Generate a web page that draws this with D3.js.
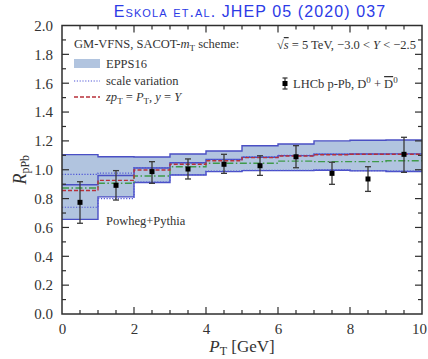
<!DOCTYPE html>
<html>
<head>
<meta charset="utf-8">
<script src="https://cdn.jsdelivr.net/npm/d3@7"></script>
<style>
  body { margin: 0; background: #fff; }
  svg { display: block; }
  text { font-family: "Liberation Serif", "DejaVu Serif", serif; fill: #333; }
</style>
</head>
<body>
<div id="chart"></div>
<script>
// bins in pT (GeV)
const binEdges = [0, 1, 2, 3, 4, 5, 6, 7, 8, 9, 10];
// EPPS16 / Powheg band (step values per bin)
const bandUpper = [1.105, 1.09, 1.088, 1.109, 1.13, 1.166, 1.178, 1.2, 1.204, 1.206];
const bandInner = [0.896, 0.96, 1.012, 1.049, 1.072, 1.087, 1.098, 1.107, 1.109, 1.11];
const bandLower = [0.656, 0.812, 0.912, 0.964, 0.987, 0.994, 0.994, 0.997, 0.992, 0.988];
// scale variation
const scaleUp = [0.968, 0.977, 1.015, 1.047, 1.07, 1.09, 1.1, 1.109, 1.111, 1.111];
const scaleDown = [0.74, 0.80, 0.915, 0.966, 0.99, 0.996, 0.996, 0.999, 0.994, 0.99];
// zpT = PT, y = Y
const central = [0.856, 0.926, 0.998, 1.038, 1.062, 1.084, 1.095, 1.104, 1.107, 1.107];
// Powheg+Pythia
const powheg = [0.874, 0.906, 0.957, 1.021, 1.045, 1.045, 1.06, 1.056, 1.056, 1.062];
// LHCb p-Pb data
const lhcbPt = [0.5, 1.5, 2.5, 3.5, 4.5, 5.5, 6.5, 7.5, 8.5, 9.5];
const lhcbR = [0.774, 0.892, 0.987, 1.005, 1.038, 1.028, 1.09, 0.975, 0.936, 1.107];
const lhcbHi = [0.917, 0.994, 1.056, 1.075, 1.107, 1.097, 1.167, 1.052, 1.021, 1.225];
const lhcbLo = [0.629, 0.79, 0.906, 0.936, 0.975, 0.961, 1.014, 0.899, 0.85, 0.982];
const xTicks = [0, 2, 4, 6, 8, 10];
const yTicks = [0.0, 0.2, 0.4, 0.6, 0.8, 1.0, 1.2, 1.4, 1.6, 1.8, 2.0];

const W = 428, H = 359;
const m = {top: 25.5, right: 6, bottom: 45, left: 62};
const w = W - m.left - m.right, h = H - m.top - m.bottom;
const SERIF = "Liberation Serif, DejaVu Serif, serif";

const svg = d3.select("#chart").append("svg")
  .attr("width", W).attr("height", H);

const x = d3.scaleLinear().domain([0, 10]).range([0, w]);
const y = d3.scaleLinear().domain([0, 2]).range([h, 0]);

const g = svg.append("g").attr("transform", `translate(${m.left},${m.top})`);

// step helper: per-bin values -> points incl. last edge
const steps = vals => vals.map((v, i) => [binEdges[i], v]).concat([[binEdges[vals.length], vals[vals.length - 1]]]);

const line = d3.line().x(d => x(d[0])).y(d => y(d[1])).curve(d3.curveStepAfter);
const area = d3.area()
  .x(d => x(d.x)).y0(d => y(d.lo)).y1(d => y(d.hi)).curve(d3.curveStepAfter);

const bandData = bandUpper.map((v, i) => ({x: binEdges[i], hi: v, lo: bandLower[i]}));
bandData.push({x: 10, hi: bandUpper[9], lo: bandLower[9]});

g.append("path").datum(bandData).attr("d", area)
  .attr("fill", "#b1c4df");

const edgeColor = "#4a4fc4";
[bandUpper, bandLower, bandInner].forEach(vals => {
  g.append("path").datum(steps(vals)).attr("d", line)
    .attr("fill", "none").attr("stroke", edgeColor).attr("stroke-width", 1.4);
});

[scaleUp, scaleDown].forEach(vals => {
  g.append("path").datum(steps(vals)).attr("d", line)
    .attr("fill", "none").attr("stroke", "#5057d8").attr("stroke-width", 1.2)
    .attr("stroke-dasharray", "1.2,1.6");
});

g.append("path").datum(steps(powheg)).attr("d", line)
  .attr("fill", "none").attr("stroke", "#3f9a4a").attr("stroke-width", 1.4)
  .attr("stroke-dasharray", "7,2.5,1.5,2.5");

g.append("path").datum(steps(central)).attr("d", line)
  .attr("fill", "none").attr("stroke", "#b8303a").attr("stroke-width", 1.4)
  .attr("stroke-dasharray", "4,2");

// LHCb points
const pts = g.selectAll(".pt").data(lhcbPt.map((p, i) => ({p, r: lhcbR[i], hi: lhcbHi[i], lo: lhcbLo[i]})))
  .enter().append("g").attr("class", "pt");
pts.append("line")
  .attr("x1", d => x(d.p)).attr("x2", d => x(d.p))
  .attr("y1", d => y(d.hi)).attr("y2", d => y(d.lo))
  .attr("stroke", "#3a3a3a").attr("stroke-width", 1.3);
["hi", "lo"].forEach(k => {
  pts.append("line")
    .attr("x1", d => x(d.p) - 3).attr("x2", d => x(d.p) + 3)
    .attr("y1", d => y(d[k])).attr("y2", d => y(d[k]))
    .attr("stroke", "#3a3a3a").attr("stroke-width", 1.3);
});
pts.append("rect")
  .attr("x", d => x(d.p) - 2.5).attr("y", d => y(d.r) - 2.5)
  .attr("width", 5).attr("height", 5).attr("fill", "#000");

// frame and ticks
const frameColor = "#2e2e2e";
g.append("rect").attr("width", w).attr("height", h)
  .attr("fill", "none").attr("stroke", frameColor).attr("stroke-width", 1.5);

const xMinor = d3.range(0.5, 10, 0.5).filter(v => v % 2 !== 0);
const yMinor = d3.range(0.1, 2.0, 0.1).filter(v => Math.abs(Math.round(v * 5) - v * 5) > 0.01);

function tickLines(vals, len, isX) {
  vals.forEach(v => {
    if (isX) {
      g.append("line").attr("x1", x(v)).attr("x2", x(v)).attr("y1", h).attr("y2", h - len)
        .attr("stroke", frameColor).attr("stroke-width", 1.2);
      g.append("line").attr("x1", x(v)).attr("x2", x(v)).attr("y1", 0).attr("y2", len)
        .attr("stroke", frameColor).attr("stroke-width", 1.2);
    } else {
      g.append("line").attr("y1", y(v)).attr("y2", y(v)).attr("x1", 0).attr("x2", len)
        .attr("stroke", frameColor).attr("stroke-width", 1.2);
      g.append("line").attr("y1", y(v)).attr("y2", y(v)).attr("x1", w).attr("x2", w - len)
        .attr("stroke", frameColor).attr("stroke-width", 1.2);
    }
  });
}
tickLines(xTicks.slice(1, -1), 7, true);
tickLines(xMinor, 4, true);
tickLines(yTicks.slice(1, -1), 7, false);
tickLines(yMinor, 4, false);

// tick labels via axes (no tick lines)
const xAxis = d3.axisBottom(x).tickValues(xTicks).tickFormat(d3.format("d")).tickSize(0).tickPadding(9);
const yAxis = d3.axisLeft(y).tickValues(yTicks).tickFormat(d3.format(".1f")).tickSize(0).tickPadding(9);
const xg = g.append("g").attr("transform", `translate(0,${h})`).call(xAxis);
const yg = g.append("g").call(yAxis);
[xg, yg].forEach(a => {
  a.attr("font-family", SERIF);
  a.select(".domain").remove();
  a.selectAll("text").style("font-family", SERIF).attr("font-size", 15).attr("fill", "#333");
});
xg.selectAll("text").filter(d => d === 10).attr("dx", -3);

// axis titles
const xt = svg.append("text").attr("x", m.left + w / 2).attr("y", 352)
  .attr("text-anchor", "middle").attr("font-size", 17);
xt.append("tspan").attr("font-style", "italic").text("P");
xt.append("tspan").attr("font-size", 12).attr("dy", 3).text("T");
xt.append("tspan").attr("dy", -3).text(" [GeV]");

const yt = svg.append("text").attr("transform", `translate(26,${y(1.0) + m.top}) rotate(-90)`)
  .attr("text-anchor", "middle").attr("font-size", 18);
yt.append("tspan").attr("font-style", "italic").text("R");
yt.append("tspan").attr("font-size", 12).attr("dy", 3).text("pPb");

// title
svg.append("text").attr("x", 250).attr("y", 17).attr("text-anchor", "middle")
  .style("font-family", "Liberation Sans, Arial, sans-serif").attr("font-size", 16)
  .style("letter-spacing", "1.1px")
  .style("font-variant", "small-caps").style("fill", "#2c3ae6")
  .text("Eskola et.al. JHEP 05 (2020) 037");

// legend
const lg = svg.append("g").attr("font-size", 12.5).attr("font-family", SERIF);
const t1 = lg.append("text").attr("x", 74).attr("y", 48);
t1.append("tspan").text("GM-VFNS, SACOT-");
t1.append("tspan").attr("font-style", "italic").text("m");
t1.append("tspan").attr("font-size", 9).attr("dy", 2.5).text("T");
t1.append("tspan").attr("dy", -2.5).text(" scheme:");

lg.append("rect").attr("x", 74).attr("y", 59).attr("width", 26).attr("height", 9).attr("fill", "#b1c4df");
lg.append("text").attr("x", 106).attr("y", 68).text("EPPS16");

lg.append("line").attr("x1", 74).attr("x2", 100).attr("y1", 81).attr("y2", 81)
  .attr("stroke", "#5057d8").attr("stroke-width", 1.2).attr("stroke-dasharray", "1.2,1.6");
lg.append("text").attr("x", 106).attr("y", 85).text("scale variation");

lg.append("line").attr("x1", 74).attr("x2", 100).attr("y1", 97).attr("y2", 97)
  .attr("stroke", "#b8303a").attr("stroke-width", 1.4).attr("stroke-dasharray", "4,2");
const t3 = lg.append("text").attr("x", 106).attr("y", 101);
t3.append("tspan").attr("font-style", "italic").text("zp");
t3.append("tspan").attr("font-size", 9).attr("dy", 2.5).text("T");
t3.append("tspan").attr("dy", -2.5).text(" = ");
t3.append("tspan").attr("font-style", "italic").text("P");
t3.append("tspan").attr("font-size", 9).attr("dy", 2.5).text("T");
t3.append("tspan").attr("dy", -2.5).text(", ");
t3.append("tspan").attr("font-style", "italic").text("y");
t3.append("tspan").text(" = ");
t3.append("tspan").attr("font-style", "italic").text("Y");

const t4 = lg.append("text").attr("x", 416).attr("y", 49).attr("text-anchor", "end");
t4.append("tspan").text("√");
t4.append("tspan").attr("font-style", "italic").style("text-decoration", "overline").text("s");
t4.append("tspan").text(" = 5 TeV, −3.0 < ");
t4.append("tspan").attr("font-style", "italic").text("Y");
t4.append("tspan").text(" < −2.5");

// LHCb legend marker
lg.append("line").attr("x1", 285).attr("x2", 285).attr("y1", 78).attr("y2", 89)
  .attr("stroke", "#3a3a3a").attr("stroke-width", 1.3);
lg.append("line").attr("x1", 282.5).attr("x2", 287.5).attr("y1", 78).attr("y2", 78)
  .attr("stroke", "#3a3a3a").attr("stroke-width", 1.3);
lg.append("line").attr("x1", 282.5).attr("x2", 287.5).attr("y1", 89).attr("y2", 89)
  .attr("stroke", "#3a3a3a").attr("stroke-width", 1.3);
lg.append("rect").attr("x", 282.5).attr("y", 81).attr("width", 5).attr("height", 5).attr("fill", "#000");
const t5 = lg.append("text").attr("x", 293).attr("y", 88);
t5.append("tspan").text("LHCb p-Pb, D");
t5.append("tspan").attr("font-size", 9).attr("dy", -5).text("0");
t5.append("tspan").attr("dy", 5).text(" + ");
t5.append("tspan").style("text-decoration", "overline").text("D");
t5.append("tspan").attr("font-size", 9).attr("dy", -5).text("0");

svg.append("text").attr("x", 106).attr("y", 225).attr("font-size", 12.5)
  .style("font-family", SERIF).text("Powheg+Pythia");
</script>
</body>
</html>
